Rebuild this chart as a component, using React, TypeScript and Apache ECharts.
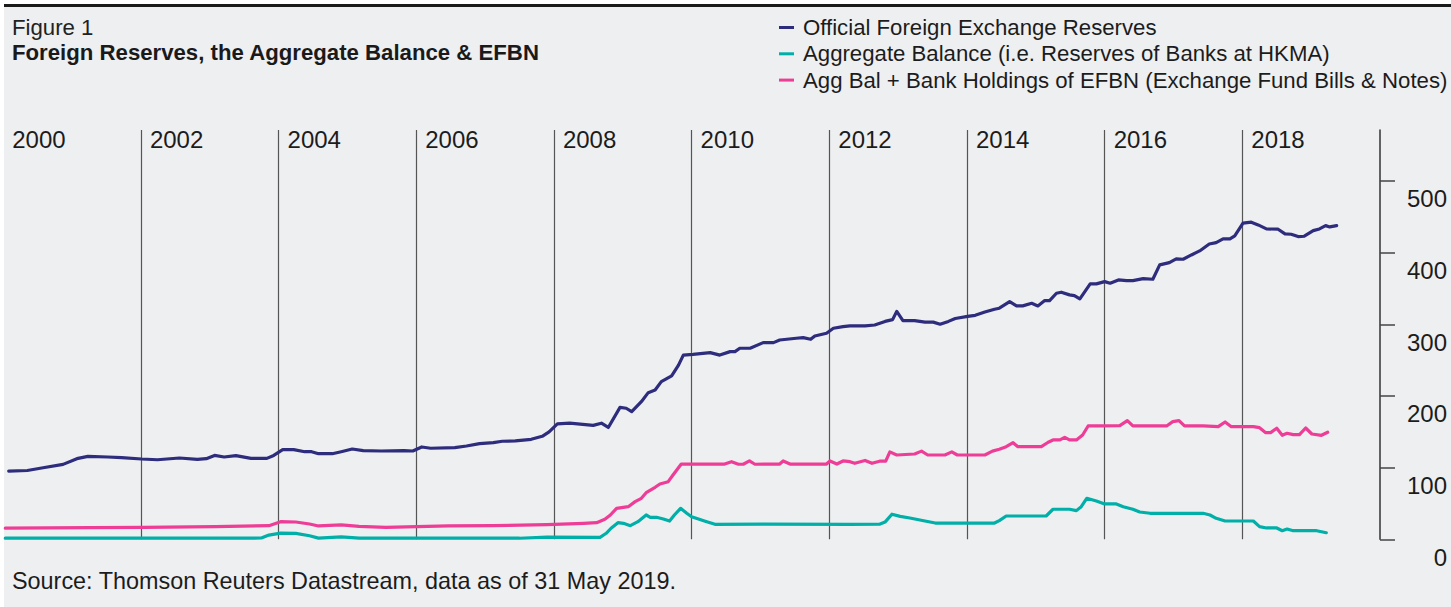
import React, { useEffect, useRef } from 'react';
import * as echarts from 'echarts';

const seriesNames = [
  'Official Foreign Exchange Reserves',
  'Aggregate Balance (i.e. Reserves of Banks at HKMA)',
  'Agg Bal + Bank Holdings of EFBN (Exchange Fund Bills & Notes)',
];

const yTicks = [0, 100, 200, 300, 400, 500];

// [decimal year, US$ bn]
const reserves: [number, number][] = [
  [2000.08, 95.2], [2000.35, 96.0], [2000.58, 99.8], [2000.87, 104.5], [2001.07, 112.5], [2001.23, 115.7],
  [2001.52, 114.8], [2001.72, 113.9], [2002.01, 112.0], [2002.24, 111.0], [2002.56, 113.4], [2002.82, 111.5],
  [2002.95, 112.5], [2003.07, 117.0], [2003.21, 114.8], [2003.38, 116.7], [2003.60, 112.9], [2003.83, 112.9],
  [2003.93, 117.0], [2004.06, 125.0], [2004.22, 125.0], [2004.38, 122.2], [2004.48, 122.2], [2004.58, 119.4],
  [2004.78, 119.4], [2004.91, 122.2], [2005.07, 126.0], [2005.23, 123.6], [2005.49, 123.2], [2005.82, 123.6],
  [2005.95, 123.2], [2006.08, 128.8], [2006.21, 127.0], [2006.56, 127.8], [2006.73, 130.2], [2006.92, 133.4],
  [2007.12, 134.9], [2007.25, 136.8], [2007.44, 137.2], [2007.67, 139.5], [2007.83, 143.7], [2007.93, 149.9],
  [2008.05, 161.0], [2008.23, 162.0], [2008.57, 159.0], [2008.69, 162.0], [2008.79, 156.0], [2008.96, 184.0],
  [2009.05, 182.8], [2009.13, 178.0], [2009.27, 192.0], [2009.37, 204.6], [2009.47, 208.3], [2009.56, 220.0],
  [2009.71, 228.0], [2009.81, 243.0], [2009.88, 257.0], [2010.02, 258.0], [2010.27, 260.4], [2010.41, 257.0],
  [2010.56, 261.8], [2010.63, 261.8], [2010.70, 266.5], [2010.85, 266.5], [2011.04, 274.4], [2011.19, 274.4],
  [2011.28, 278.0], [2011.52, 280.5], [2011.62, 281.3], [2011.73, 279.0], [2011.79, 283.7], [2011.96, 287.5],
  [2012.06, 294.4], [2012.20, 296.7], [2012.30, 297.7], [2012.52, 297.7], [2012.66, 299.0], [2012.81, 304.0],
  [2012.92, 306.5], [2012.98, 318.0], [2013.07, 305.0], [2013.24, 305.0], [2013.39, 303.0], [2013.51, 303.0],
  [2013.61, 300.0], [2013.73, 304.0], [2013.83, 308.0], [2014.01, 311.0], [2014.12, 312.5], [2014.26, 317.0],
  [2014.40, 321.0], [2014.47, 322.4], [2014.62, 331.6], [2014.72, 325.6], [2014.81, 325.6], [2014.94, 329.3],
  [2015.03, 325.6], [2015.13, 333.0], [2015.20, 333.0], [2015.30, 343.3], [2015.37, 344.7], [2015.49, 341.0],
  [2015.56, 340.0], [2015.64, 335.3], [2015.79, 356.3], [2015.88, 356.3], [2016.00, 359.5], [2016.08, 357.2],
  [2016.20, 361.8], [2016.32, 360.9], [2016.41, 360.9], [2016.56, 363.7], [2016.70, 362.8], [2016.80, 382.8],
  [2016.94, 386.0], [2017.04, 391.2], [2017.14, 390.7], [2017.26, 396.7], [2017.38, 402.3], [2017.52, 412.0],
  [2017.62, 413.9], [2017.72, 419.0], [2017.82, 419.0], [2017.89, 423.2], [2018.01, 441.0], [2018.13, 442.4],
  [2018.23, 438.6], [2018.35, 433.0], [2018.52, 432.6], [2018.62, 426.0], [2018.71, 425.6], [2018.81, 422.3],
  [2018.90, 422.8], [2019.03, 430.6], [2019.12, 433.0], [2019.21, 437.6], [2019.27, 435.8], [2019.37, 437.6],
];

const aggregateBalance: [number, number][] = [
  [2000.03, 1.5], [2001.5, 1.5], [2003.0, 1.5], [2003.75, 1.8], [2003.86, 5.9], [2004.03, 8.7], [2004.25, 8.2],
  [2004.45, 4.9], [2004.58, 1.7], [2004.91, 3.5], [2005.17, 1.7], [2006.0, 1.5], [2007.5, 1.5], [2007.9, 3.0],
  [2008.67, 2.8], [2008.76, 8.4], [2008.83, 15.4], [2008.93, 23.2], [2009.01, 22.3], [2009.11, 19.0],
  [2009.22, 24.6], [2009.34, 33.9], [2009.40, 30.7], [2009.49, 30.7], [2009.59, 28.3], [2009.68, 25.5],
  [2009.75, 33.9], [2009.84, 43.2], [2009.93, 36.3], [2010.00, 31.5], [2010.10, 28.3], [2010.22, 24.6],
  [2010.34, 20.9], [2011.04, 21.3], [2012.30, 20.9], [2012.73, 21.0], [2012.81, 24.0], [2012.91, 35.0],
  [2013.03, 32.0], [2013.17, 29.7], [2013.39, 25.5], [2013.54, 22.7], [2014.40, 22.7], [2014.47, 26.0],
  [2014.57, 32.5], [2015.15, 32.5], [2015.25, 41.9], [2015.49, 41.9], [2015.59, 40.0], [2015.66, 45.5],
  [2015.74, 57.2], [2015.88, 53.4], [2016.00, 49.3], [2016.17, 49.3], [2016.27, 45.5], [2016.41, 41.9],
  [2016.51, 38.1], [2016.66, 36.3], [2017.43, 36.3], [2017.53, 33.9], [2017.62, 29.3], [2017.75, 25.5],
  [2018.16, 25.5], [2018.25, 17.6], [2018.35, 15.8], [2018.50, 15.8], [2018.58, 12.0], [2018.65, 14.4],
  [2018.74, 12.0], [2019.08, 12.0], [2019.22, 9.2],
];

const aggBalPlusEfbn: [number, number][] = [
  [2000.03, 15.5], [2001.26, 16.2], [2002.04, 16.6], [2003.08, 17.6], [2003.86, 19.0], [2004.03, 24.6],
  [2004.25, 24.1], [2004.45, 21.4], [2004.58, 18.6], [2004.91, 20.0], [2005.17, 18.0], [2005.56, 16.6],
  [2006.01, 17.6], [2006.47, 18.6], [2007.11, 19.0], [2007.90, 20.4], [2008.43, 22.3], [2008.62, 23.2],
  [2008.74, 27.9], [2008.82, 33.9], [2008.91, 43.2], [2009.08, 45.5], [2009.18, 52.5], [2009.27, 57.2],
  [2009.34, 65.0], [2009.47, 72.6], [2009.54, 77.2], [2009.66, 80.4], [2009.73, 89.7], [2009.85, 105.0],
  [2010.48, 105.0], [2010.58, 108.3], [2010.68, 104.7], [2010.75, 104.7], [2010.84, 109.3], [2010.92, 104.7],
  [2011.28, 105.0], [2011.33, 109.3], [2011.43, 105.0], [2011.96, 105.0], [2012.01, 109.3], [2012.11, 105.0],
  [2012.20, 109.3], [2012.30, 108.3], [2012.37, 106.0], [2012.52, 110.0], [2012.62, 106.0], [2012.73, 109.0],
  [2012.82, 109.0], [2012.88, 122.0], [2012.98, 117.6], [2013.24, 119.0], [2013.34, 123.0], [2013.43, 117.6],
  [2013.68, 117.6], [2013.78, 122.0], [2013.86, 117.6], [2014.26, 117.6], [2014.37, 123.0], [2014.47, 125.6],
  [2014.57, 129.2], [2014.67, 134.8], [2014.74, 129.2], [2015.08, 129.2], [2015.18, 135.4], [2015.25, 138.6],
  [2015.35, 138.6], [2015.42, 142.3], [2015.49, 138.6], [2015.59, 138.6], [2015.68, 145.5], [2015.76, 158.1],
  [2015.93, 158.1], [2016.22, 158.5], [2016.33, 165.5], [2016.41, 158.1], [2016.90, 158.1], [2016.99, 164.1],
  [2017.08, 165.5], [2017.16, 158.1], [2017.43, 158.1], [2017.65, 157.1], [2017.75, 163.7], [2017.84, 157.1],
  [2018.16, 157.1], [2018.25, 155.7], [2018.34, 148.8], [2018.41, 148.8], [2018.50, 154.9], [2018.58, 145.1],
  [2018.65, 147.9], [2018.74, 146.0], [2018.83, 146.0], [2018.92, 155.3], [2019.01, 146.9], [2019.15, 145.1],
  [2019.24, 149.3],
];

const colors = ['#2e2c7c', '#00afa8', '#ee3d97'];

export default function App() {
  const ref = useRef<HTMLDivElement>(null);
  useEffect(() => {
    if (!ref.current) return;
    const chart = echarts.init(ref.current, null, { renderer: 'svg' });
    const font = "'Liberation Sans', Arial, sans-serif";
    const textColor = '#1c1c1c';
    const mkLine = (name: string, data: [number, number][], color: string) => ({
      name,
      type: 'line',
      data,
      symbol: 'none',
      showSymbol: false,
      color,
      lineStyle: { color, width: 3.2, cap: 'round', join: 'round' },
      emphasis: { disabled: true },
    });
    chart.setOption({
      animation: false,
      backgroundColor: '#eeeff1',
      textStyle: { fontFamily: font },
      color: colors,
      grid: { left: 3.2, right: 71, top: 130, bottom: 67.7 },
      legend: {
        orient: 'vertical',
        left: 779,
        top: 14.5,
        padding: 0,
        itemWidth: 15,
        itemHeight: 3,
        itemGap: 0.3,
        icon: 'rect',
        selectedMode: false,
        data: seriesNames,
        textStyle: { fontFamily: font, fontSize: 22.2, color: textColor, lineHeight: 26, padding: [0, 0, 0, 4] },
      },
      xAxis: {
        type: 'value',
        position: 'top',
        min: 2000,
        max: 2020,
        interval: 2,
        axisLine: { show: false },
        axisTick: { show: false },
        axisLabel: {
          inside: true,
          margin: 9,
          verticalAlign: 'middle',
          align: 'left',
          padding: [0, 0, 0, 9],
          fontSize: 24,
          color: textColor,
          fontFamily: font,
          showMaxLabel: false,
          formatter: (v: number) => String(v),
        },
        splitLine: {
          show: true,
          showMinLine: false,
          showMaxLine: false,
          lineStyle: { color: '#555', width: 1.2 },
        },
      },
      yAxis: {
        type: 'value',
        position: 'right',
        min: 0,
        max: 571,
        interval: 100,
        axisLine: { show: true, lineStyle: { color: '#333', width: 1.5 } },
        axisTick: { show: true, length: 15, customValues: yTicks, lineStyle: { color: '#444', width: 1.5 } },
        axisLabel: {
          customValues: yTicks,
          margin: 67,
          align: 'right',
          verticalAlign: 'top',
          lineHeight: 36,
          fontSize: 24,
          color: textColor,
          fontFamily: font,
        },
        splitLine: { show: false },
      },
      series: [
        mkLine(seriesNames[0], reserves, colors[0]),
        mkLine(seriesNames[1], aggregateBalance, colors[1]),
        mkLine(seriesNames[2], aggBalPlusEfbn, colors[2]),
      ],
      graphic: [
        { type: 'rect', left: 0, top: 0, shape: { width: 1451, height: 4 }, style: { fill: '#ffffff' }, silent: true },
        { type: 'rect', left: 0, top: 0, shape: { width: 4, height: 607 }, style: { fill: '#ffffff' }, silent: true },
        { type: 'rect', left: 4, top: 4, shape: { width: 1447, height: 3 }, style: { fill: '#1a1a1a' }, silent: true },
        {
          type: 'text', left: 12, top: 16,
          style: { text: 'Figure 1', fontFamily: font, fontSize: 22.2, fill: '#222', fontWeight: 'normal' },
          silent: true,
        },
        {
          type: 'text', left: 12, top: 41,
          style: { text: 'Foreign Reserves, the Aggregate Balance & EFBN', fontFamily: font, fontSize: 22.2, fill: '#1a1a1a', fontWeight: 'bold' },
          silent: true,
        },
        {
          type: 'text', left: 12, top: 569,
          style: { text: 'Source: Thomson Reuters Datastream, data as of 31 May 2019.', fontFamily: font, fontSize: 23.4, fill: textColor },
          silent: true,
        },
      ],
    });
    return () => chart.dispose();
  }, []);
  return <div ref={ref} style={{ position: 'fixed', left: 0, top: 0, width: 1451, height: 607 }} />;
}
